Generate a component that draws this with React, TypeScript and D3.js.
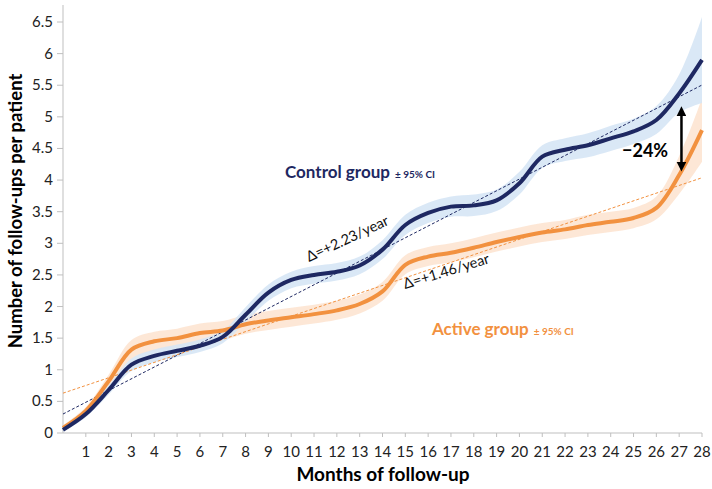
import React from "react";
import * as d3 from "d3";

const months = d3.range(0, 29);
const xTicks = d3.range(1, 29);
const yTicks = [0, 0.5, 1, 1.5, 2, 2.5, 3, 3.5, 4, 4.5, 5, 5.5, 6, 6.5];

const controlValues = [0.05, 0.3, 0.68, 1.08, 1.22, 1.3, 1.38, 1.52, 1.87, 2.22, 2.42, 2.5, 2.55, 2.65, 2.9, 3.29, 3.48, 3.58, 3.6, 3.68, 3.95, 4.37, 4.48, 4.55, 4.66, 4.77, 4.95, 5.37, 5.9];
const controlCI = [0.03, 0.05, 0.07, 0.1, 0.1, 0.1, 0.1, 0.1, 0.12, 0.13, 0.13, 0.14, 0.14, 0.14, 0.15, 0.16, 0.16, 0.16, 0.17, 0.17, 0.18, 0.18, 0.18, 0.19, 0.2, 0.2, 0.22, 0.3, 0.68];

const activeValues = [0.08, 0.35, 0.82, 1.32, 1.45, 1.5, 1.58, 1.62, 1.72, 1.78, 1.83, 1.88, 1.94, 2.04, 2.24, 2.66, 2.79, 2.85, 2.93, 3.02, 3.1, 3.17, 3.22, 3.29, 3.34, 3.4, 3.56, 4.08, 4.79];
const activeCI = [0.04, 0.06, 0.1, 0.15, 0.15, 0.15, 0.15, 0.15, 0.15, 0.15, 0.15, 0.15, 0.15, 0.15, 0.15, 0.15, 0.15, 0.15, 0.15, 0.15, 0.15, 0.15, 0.15, 0.16, 0.16, 0.16, 0.18, 0.3, 0.5];

const controlTrend = { intercept: 0.3, slopePerYear: 2.23 };
const activeTrend = { intercept: 0.63, slopePerYear: 1.46 };

const NAVY = "#1E2862";
const ORANGE = "#F2913F";
const BLUE_BAND = "#D6E6F5";
const ORANGE_BAND = "#FDE4D1";
const FONT = "Lato, 'Open Sans', sans-serif";

export default function App() {
  const x = d3.scaleLinear().domain([0, 28]).range([63, 702]);
  const y = d3.scaleLinear().domain([0, 6.5]).range([433, 22]);

  const line = d3
    .line<number>()
    .x((_, i) => x(months[i]))
    .y((d) => y(d))
    .curve(d3.curveCatmullRom.alpha(0.5));

  const area = (vals: number[], ci: number[]) =>
    d3
      .area<number>()
      .x((_, i) => x(months[i]))
      .y0((d, i) => y(Math.max(0, d - ci[i])))
      .y1((d, i) => y(d + ci[i]))
      .curve(d3.curveCatmullRom.alpha(0.5))(vals) || "";

  const trend = (t: { intercept: number; slopePerYear: number }) => {
    const s = t.slopePerYear / 12;
    return { x1: x(0), y1: y(t.intercept), x2: x(28), y2: y(t.intercept + s * 28) };
  };
  const ct = trend(controlTrend);
  const at = trend(activeTrend);

  const arrowX = x(27.1);
  const arrowTop = y(5.15);
  const arrowBot = y(4.15);

  return (
    <div style={{ position: "fixed", left: 0, top: 0 }}>
      <svg width={712} height={489} style={{ display: "block", background: "#fff" }} fontFamily={FONT}>
        <defs>
          <marker id="ah" viewBox="0 0 10 10" refX="5" refY="5" markerWidth="4" markerHeight="4" orient="auto-start-reverse">
            <path d="M0,0 L10,5 L0,10 z" fill="#000" />
          </marker>
        </defs>
        {/* axes */}
        <line x1={63} x2={63} y1={5} y2={433} stroke="#BFBFBF" strokeWidth={1} />
        <line x1={63} x2={702} y1={433} y2={433} stroke="#BFBFBF" strokeWidth={1} />
        {yTicks.map((t) => (
          <g key={"y" + t}>
            <line x1={57} x2={63} y1={y(t)} y2={y(t)} stroke="#BFBFBF" />
            <text x={53} y={y(t) + 5} textAnchor="end" fontSize={15} fill="#222">
              {t}
            </text>
          </g>
        ))}
        {xTicks.map((t) => (
          <g key={"x" + t}>
            <line x1={x(t)} x2={x(t)} y1={433} y2={437} stroke="#BFBFBF" />
            <text x={x(t)} y={457} textAnchor="middle" fontSize={15} fill="#222">
              {t}
            </text>
          </g>
        ))}
        <text x={383} y={481} textAnchor="middle" fontSize={19} fontWeight="bold" fill="#000">
          Months of follow-up
        </text>
        <text transform="translate(22,211) rotate(-90)" textAnchor="middle" fontSize={18.5} fontWeight="bold" fill="#000">
          Number of follow-ups per patient
        </text>

        {/* bands */}
        <path d={area(activeValues, activeCI)} fill={ORANGE_BAND} opacity={0.9} />
        <path d={area(controlValues, controlCI)} fill={BLUE_BAND} opacity={0.9} />

        {/* trend lines */}
        <line {...ct} stroke={NAVY} strokeWidth={1} strokeDasharray="3,2" />
        <line {...at} stroke={ORANGE} strokeWidth={1} strokeDasharray="3,2" />

        {/* main lines */}
        <path d={line(activeValues) || ""} fill="none" stroke={ORANGE} strokeWidth={4} />
        <path d={line(controlValues) || ""} fill="none" stroke={NAVY} strokeWidth={4} />

        {/* annotations */}
        <text x={285} y={178} fontSize={17} fontWeight="bold" fill={NAVY}>
          Control group
          <tspan fontSize={10} dx={5}>± 95% CI</tspan>
        </text>
        <text x={432} y={335} fontSize={17} fontWeight="bold" fill={ORANGE}>
          Active group
          <tspan fontSize={10} dx={5}>± 95% CI</tspan>
        </text>
        <text transform="translate(309,262) rotate(-25)" fontSize={14.5} fill="#111">
          Δ=+2.23/year
        </text>
        <text transform="translate(405,289) rotate(-17)" fontSize={14.5} fill="#111">
          Δ=+1.46/year
        </text>
        <text x={622} y={157} fontSize={18} fontWeight="bold" fill="#000">
          −24%
        </text>
        <line
          x1={arrowX}
          x2={arrowX}
          y1={arrowTop + 4}
          y2={arrowBot - 4}
          stroke="#000"
          strokeWidth={2.5}
          markerStart="url(#ah)"
          markerEnd="url(#ah)"
        />
      </svg>
    </div>
  );
}
